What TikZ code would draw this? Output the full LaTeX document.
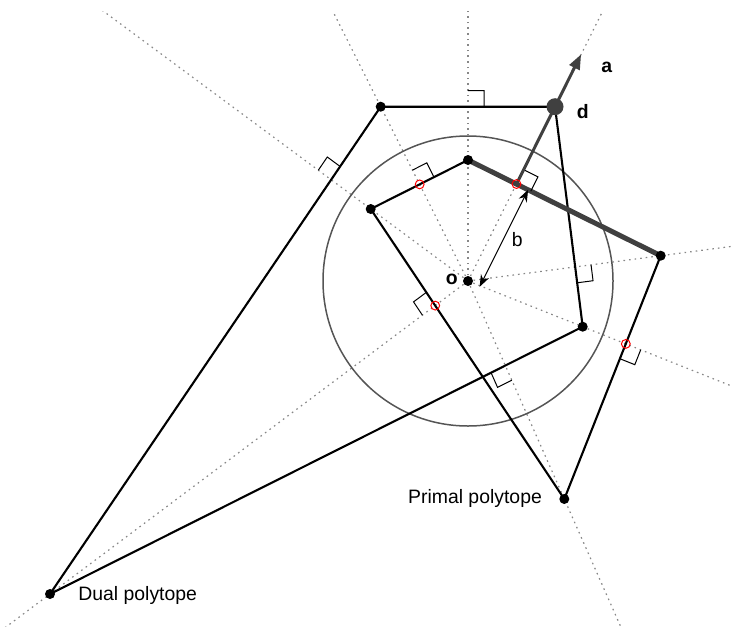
\documentclass[tikz,border=0pt]{standalone}
\usepackage{fontspec}
\setmainfont{Liberation Sans}
\usetikzlibrary{calc,arrows.meta}
\definecolor{dgray}{RGB}{64,64,64}
\definecolor{cgray}{RGB}{85,85,85}
\definecolor{rgray}{RGB}{135,135,135}
\newcommand\rangmark[3]{%
  \coordinate (rmA) at ($(#1)!8pt!(#2)$);
  \coordinate (rmB) at ($(#1)!8pt!(#3)$);
  \draw[anglemark] (rmA) -- ($(rmA)+(rmB)-(#1)$) -- (rmB);
}
\begin{document}
\begin{tikzpicture}[x=0.5pt,y=-0.5pt,
  font=\fontsize{9.7}{11.6}\selectfont,
  ray/.style={draw=rgray,line width=0.6pt,dash pattern=on 0.8pt off 2pt},
  poly/.style={draw=black,line width=1.05pt,line join=round},
  anglemark/.style={draw=black,line width=0.5pt,line join=miter},
  vdot/.style={circle,fill=black,inner sep=0pt,minimum size=5pt},
  ddot/.style={circle,fill=dgray,inner sep=0pt,minimum size=8.5pt},
  redc/.style={draw=red,line width=0.5pt},
  lbl/.style={inner sep=0pt}]
\useasboundingbox (0,0) rectangle (732,626);
% centre and vertices
\coordinate (o) at (468,281);
\coordinate (P1) at (468,160);
\coordinate (P2) at (660.7,255.7);
\coordinate (P3) at (564.3,499);
\coordinate (P4) at (370.7,209);
\coordinate (D1) at (555,106.7);
\coordinate (D2) at (582.7,326.7);
\coordinate (D3) at (50,594);
\coordinate (D4) at (380.7,106.7);
% rays
\foreach \v in {P1,P2,P3,P4,D1,D2,D3,D4}
  \coordinate (R\v) at ($(o)!700pt!(\v)$);
\begin{scope}
  \clip (0,12) rectangle (732,626);
  \foreach \v in {P1,P2,P3,P4,D1,D2,D3,D4}
    \draw[ray] (o) -- (R\v);
\end{scope}
% circle
\draw[cgray,line width=0.75pt] (o) circle [radius=72.5pt];
% dual polytope
\draw[poly] (D4) -- (D1) -- (D2) -- (D3) -- cycle;
% primal polytope
\draw[poly] (P2) -- (P3) -- (P4) -- (P1);
\draw[dgray,line width=2.5pt,line cap=butt] (P1) -- (P2);
% intersection points
\coordinate (X1) at (intersection of o--D1 and P1--P2);
\coordinate (X2) at (intersection of o--D2 and P2--P3);
\coordinate (X3) at (intersection of o--D3 and P3--P4);
\coordinate (X4) at (intersection of o--D4 and P4--P1);
\coordinate (Y1) at (intersection of o--P1 and D4--D1);
\coordinate (Y2) at (intersection of o--P2 and D1--D2);
\coordinate (Y3) at (intersection of o--P3 and D2--D3);
\coordinate (Y4) at (intersection of o--P4 and D3--D4);
% right-angle marks
\rangmark{X1}{RD1}{P2}
\rangmark{X2}{RD2}{P3}
\rangmark{X3}{RD3}{P4}
\rangmark{X4}{RD4}{P1}
\rangmark{Y1}{RP1}{D1}
\rangmark{Y2}{RP2}{D2}
\rangmark{Y3}{RP3}{D3}
\rangmark{Y4}{RP4}{D4}
% vector a
\coordinate (atip) at ($(X1)!72.5pt!(D1)$);
\draw[dgray,line width=1.5pt,-{Triangle[length=7.5pt,width=5.5pt]}] (X1) -- (atip);
% distance b
\coordinate (b1) at ($(o)!6.5pt!-90:(X1)$);
\coordinate (b2) at ($(X1)!6.5pt!90:(o)$);
\draw[black,line width=0.5pt,{Stealth[length=6pt,width=4.5pt]}-{Stealth[length=6pt,width=4.5pt]}] (b2) -- (b1);
% red circles
\foreach \x in {X1,X2,X3,X4}
  \draw[redc] (\x) circle [radius=2.2pt];
% dots
\foreach \v in {P1,P2,P3,P4,D2,D3,D4,o}
  \node[vdot] at (\v) {};
\node[ddot] (dd) at (D1) {};
% labels
\node[lbl,font=\fontsize{9.7}{11.6}\selectfont\bfseries] (la) at (606.7,67) {a};
\node[lbl,font=\fontsize{9.7}{11.6}\selectfont\bfseries] (ld) at (582.7,111.7) {d};
\node[lbl,font=\fontsize{9.7}{11.6}\selectfont\bfseries] (lo) at (451.7,279.3) {o};
\node[lbl] (lb) at (517.3,240) {b};
\node[lbl] (lp) at (475,498) {Primal polytope};
\node[lbl,anchor=west] (ldu) at (78,595) {Dual polytope};
\end{tikzpicture}
\end{document}
